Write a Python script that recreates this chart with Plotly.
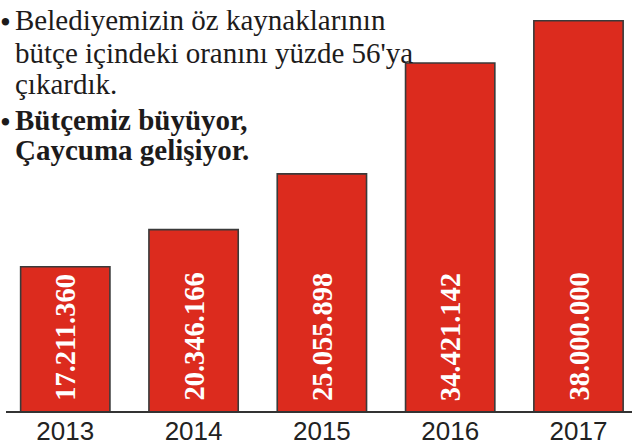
import plotly.graph_objects as go

# ---- data ----
years = ["2013", "2014", "2015", "2016", "2017"]
budget = [17211360, 20346166, 25055898, 34421142, 38000000]
value_labels = [f"{v:,}".replace(",", ".") for v in budget]

text_lines = [
    "Belediyemizin öz kaynaklarının",
    "bütçe içindeki oranını yüzde 56'ya",
    "çıkardık.",
    "<b>Bütçemiz büyüyor,</b>",
    "<b>Çaycuma gelişiyor.</b>",
]
bullet_lines = [0, 3]

# ---- layout geometry ----
W, H = 632, 445
ML, MR, MT, MB = 6, 0, 0, 34
PW, PH = W - ML - MR, H - MT - MB

def px_x(px):
    return (px - ML) / PW

def px_y(py):
    return (H - MB - py) / PH

RED = "#DC2B1E"
SERIF = "Liberation Serif, Times New Roman, serif"
FS = 29

fig = go.Figure(
    go.Bar(
        x=years,
        y=budget,
        marker=dict(color=RED, line=dict(color="#3a3a3a", width=1.6)),
        hoverinfo="skip",
    )
)

annotations = []
# value labels inside bars, rotated (category axis -> index positions)
for i, lab in enumerate(value_labels):
    annotations.append(dict(
        x=i, y=0, xref="x", yref="paper",
        text=f"<b>{lab}</b>", showarrow=False, textangle=-90,
        xanchor="center", yanchor="bottom", yshift=8,
        font=dict(family=SERIF, size=28.5, color="white"),
    ))

# text block
baselines = [30, 62.5, 94, 130, 160]
for t, bl in zip(text_lines, baselines):
    annotations.append(dict(
        x=px_x(13), y=px_y(bl - 0.33 * FS), xref="paper", yref="paper",
        text=t, showarrow=False, xanchor="left", yanchor="middle",
        font=dict(family=SERIF, size=FS, color="#1d1b1b"),
    ))
for i in bullet_lines:
    annotations.append(dict(
        x=px_x(5), y=px_y(baselines[i] - 0.33 * FS + 2.5), xref="paper", yref="paper",
        text="•", showarrow=False, xanchor="center", yanchor="middle",
        font=dict(family=SERIF, size=FS + 2, color="#1d1b1b"),
    ))

fig.update_layout(
    width=W, height=H,
    margin=dict(l=ML, r=MR, t=MT, b=MB, pad=0, autoexpand=False),
    paper_bgcolor="white", plot_bgcolor="white",
    bargap=0.304,
    showlegend=False,
    annotations=annotations,
    xaxis=dict(
        type="category", range=[-0.462, 4.417],
        showline=True, linecolor="#333333", linewidth=2,
        ticks="", showgrid=False, zeroline=False, automargin=False,
        tickfont=dict(family="Liberation Sans, Arial, sans-serif", size=26, color="#222222"),
        ticklabelstandoff=-4,
    ),
    yaxis=dict(
        range=[5.02e6, 39.75e6], visible=False, showgrid=False, zeroline=False,
    ),
)

fig.write_html(
    "out.html",
    config={"displayModeBar": False},
    post_script="document.body.style.margin='0';",
)
